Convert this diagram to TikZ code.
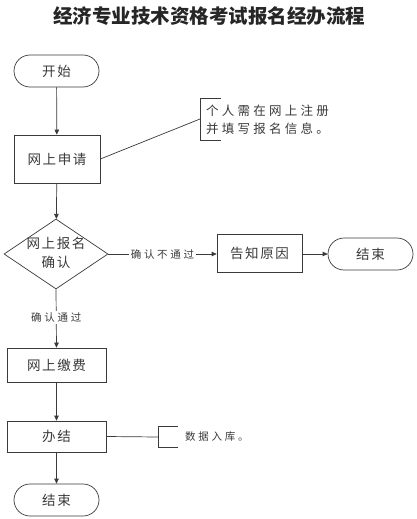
\documentclass[tikz,border=0pt]{standalone}
\usepackage{fontspec}
\setmainfont{Noto Sans CJK SC}
\newfontfamily\cjkbox[LetterSpace=12]{Noto Sans CJK SC}
\newfontfamily\cjkann[LetterSpace=26]{Noto Sans CJK SC}
\usetikzlibrary{arrows.meta,shapes.geometric}
\definecolor{ink}{HTML}{3A3A3A}
\tikzset{
  x=1pt,y=-1pt,
  every node/.style={text=ink},
  flow/.style={draw=ink,line width=0.7pt},
  arr/.style={flow,-{Triangle[length=5pt,width=4.5pt]}},
  term/.style={draw=ink,line width=0.7pt,rounded corners=16pt,minimum width=85pt,minimum height=32pt,inner sep=0pt,font=\cjkbox\fontsize{13.5}{15}\selectfont},
  proc/.style={draw=ink,line width=0.7pt,minimum width=86pt,minimum height=48pt,inner sep=0pt,font=\cjkbox\fontsize{13.5}{15}\selectfont},
  procw/.style={proc,minimum width=99pt,minimum height=34pt},
  lbl/.style={fill=white,inner sep=1.5pt,font=\cjkann\fontsize{10.5}{12}\selectfont},
  ann/.style={inner sep=0pt,align=left,font=\cjkann\fontsize{12.5}{18}\selectfont},
}
\begin{document}
\begin{tikzpicture}
\fill[white] (0,0) rectangle (417,519);
\useasboundingbox (0,0) rectangle (417,519);
% title
\node[font=\bfseries\fontsize{19.5}{22}\selectfont,text=black!85] (title) at (209,16) {经济专业技术资格考试报名经办流程};
% nodes
\node[term] (start) at (56.5,71) {开始};
\node[proc] (apply) at (57,159) {网上申请};
\node[draw=ink,line width=0.7pt,shape=diamond,minimum width=104pt,minimum height=70pt,inner sep=0pt] (check) at (56,254) {};
\node[inner sep=0pt,align=center,font=\cjkbox\fontsize{13.5}{19}\selectfont] (checktext) at (56,253) {网上报名\\确认};
\node[draw=ink,line width=0.7pt,minimum width=85pt,minimum height=38pt,inner sep=0pt,font=\cjkbox\fontsize{13.5}{15}\selectfont] (inform) at (259.5,253) {告知原因};
\node[term] (end1) at (370.5,254) {结束};
\node[procw] (pay) at (56.5,365) {网上缴费};
\node[procw,minimum height=31pt] (done) at (56.5,436.5) {办结};
\node[term] (end2) at (56.5,500) {结束};
% annotations
\coordinate (b1) at (200,119);
\draw[flow] (221,98) -- (200,98) -- (200,140) -- (221,140);
\node[ann,anchor=west] (note1) at (206,120) {个人需在网上注册\\并填写报名信息。};
\coordinate (b2) at (158,437);
\draw[flow] (178,426) -- (158,426) -- (158,447) -- (178,447);
\node[ann,anchor=west,font=\cjkann\fontsize{10.5}{12}\selectfont] (note2) at (185,437) {数据入库。};
% connectors
\draw[arr] (start) -- (apply);
\draw[flow] (apply.east) -- (b1);
\draw[arr] (apply) -- (check);
\draw[arr] (check.east) -- node[lbl] (no) {确认不通过} (inform.west |- check.east);
\draw[arr] (inform.east |- end1.west) -- (end1.west);
\draw[arr] (check.south) -- node[lbl,pos=0.48] (yes) {确认通过} (pay.north);
\draw[arr] (pay) -- (done);
\draw[flow] (done.east) -- (b2);
\draw[arr] (done) -- (end2);
\end{tikzpicture}
\end{document}
